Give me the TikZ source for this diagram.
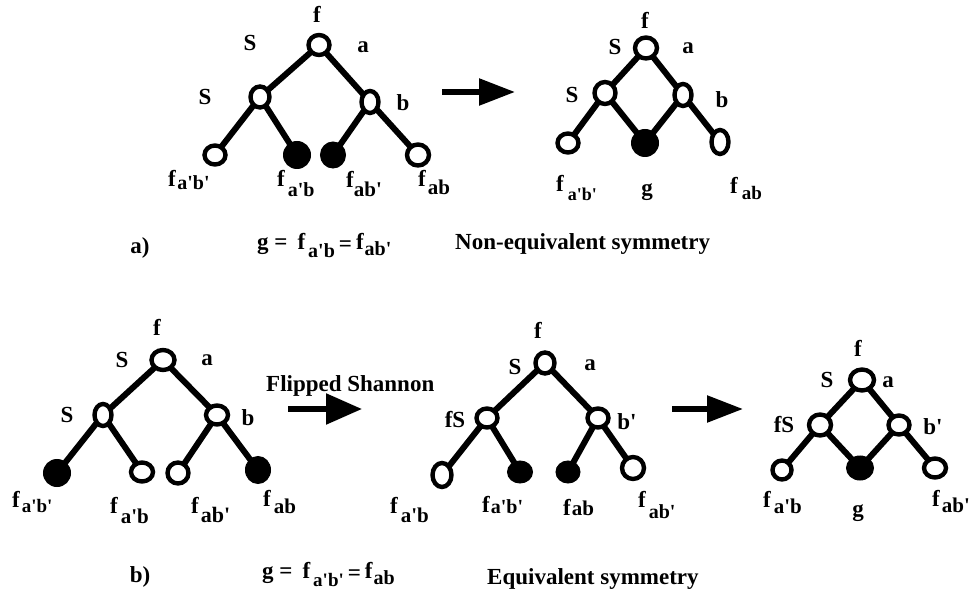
\documentclass[tikz,border=0pt]{standalone}
\usepackage{fontspec}
\newfontfamily\tf{Liberation Serif}
\usetikzlibrary{shapes.geometric,arrows.meta,backgrounds}
\tikzset{
  on/.style 2 args={draw, ellipse, line width=4.4pt, fill=white, inner sep=0pt, outer sep=0pt, minimum width=#1pt-1pt, minimum height=#2pt-1pt},
  fn/.style 2 args={draw, ellipse, line width=1pt, fill=black, inner sep=0pt, outer sep=0pt, minimum width=#1pt+2pt, minimum height=#2pt+2pt},
  edge/.style={line width=6pt},
  lab/.style={font=\tf\bfseries\fontsize{23}{23}\selectfont, inner sep=0pt},
  fl/.style={lab, anchor=base west},
  bigarrow/.style={line width=5.5pt, -{Triangle[length=36pt,width=#1pt]}},
}
\newcommand\fsub[4]{f\kern#1pt\raisebox{-#2pt}{\fontsize{#3}{#3}\selectfont #4}}
\begin{document}
\begin{tikzpicture}[x=1pt,y=-1pt]
\useasboundingbox (0,0) rectangle (974,601);
% ---------- top-left tree
\node[on={22}{21}] (A0) at (319,45) {};
\node[on={20}{22}] (A1) at (260,97) {};
\node[on={18}{23}] (A2) at (370,102) {};
\node[on={22}{20}] (A3) at (215,155) {};
\node[fn={25}{25}] (A4) at (297,155) {};
\node[fn={23}{24}] (A5) at (333,155) {};
\node[on={23}{22}] (A6) at (418,155) {};
\begin{scope}[on background layer]
\draw[edge] (A0.center) -- (A1.center) (A0.center) -- (A2.center)
  (A1.center) -- (A3.center) (A1.center) -- (A4.center)
  (A2.center) -- (A5.center) (A2.center) -- (A6.center);
\end{scope}
\node[lab] (Af) at (317,14) {f};
\node[lab] (AS) at (250,43) {S};
\node[lab] (Aa) at (363,47) {a};
\node[lab] (AS1) at (205,97) {S};
\node[lab] (Ab) at (403,103) {b};
\node[fl] (Al1) at (168,187) {\fsub{1.5}{3}{20}{a'b'}};
\node[fl] (Al2) at (277,187) {\fsub{3}{10}{20}{a'b}};
\node[fl] (Al3) at (346,188) {\fsub{0}{9}{21}{ab'}};
\node[fl] (Al4) at (418,187) {\fsub{2}{8}{21}{ab}};
% arrow top
\coordinate (ar1s) at (442,92);
\coordinate (ar1e) at (515,92);
\draw[bigarrow=26] (ar1s) -- (ar1e);
% ---------- top-right tree
\node[on={23}{22}] (B0) at (646,48) {};
\node[on={22}{23}] (B1) at (605,93) {};
\node[on={18}{23}] (B2) at (683,95) {};
\node[on={22}{20}] (B3) at (568,143) {};
\node[fn={25}{25}] (B4) at (645,143) {};
\node[on={18}{25}] (B5) at (720,142) {};
\begin{scope}[on background layer]
\draw[edge] (B0.center) -- (B1.center) (B0.center) -- (B2.center)
  (B1.center) -- (B3.center) (B1.center) -- (B4.center)
  (B2.center) -- (B4.center) (B2.center) -- (B5.center);
\end{scope}
\node[lab] (Bf) at (645,20) {f};
\node[lab] (BS) at (615,47) {S};
\node[lab] (Ba) at (688,48) {a};
\node[lab] (BS1) at (572,95) {S};
\node[lab] (Bb) at (722,100) {b};
\node[fl] (Bl1) at (556,192) {\fsub{4}{9}{18}{a'b'}};
\node[lab] (Bg) at (647,192) {g};
\node[fl] (Bl3) at (730,194) {\fsub{4}{6}{19}{ab}};
% caption a
\node[lab] (capa) at (140,248) {a)};
\node[fl] (eqa) at (257,250) {g =\kern10pt\fsub{3}{8}{20}{a'b}\kern4pt\raisebox{-2pt}{=}\kern4pt\fsub{1}{6}{20}{ab'}};
\node[fl] (txa) at (455,250) {Non-equivalent symmetry};
% ---------- bottom-left tree
\node[on={24}{21}] (C0) at (163,360) {};
\node[on={18}{23}] (C1) at (103,415) {};
\node[on={23}{20}] (C2) at (217,415) {};
\node[fn={25}{25}] (C3) at (57,473) {};
\node[on={23}{20}] (C4) at (142,472) {};
\node[on={22}{22}] (C5) at (178,473) {};
\node[fn={23}{25}] (C6) at (258,470) {};
\begin{scope}[on background layer]
\draw[edge] (C0.center) -- (C1.center) (C0.center) -- (C2.center)
  (C1.center) -- (C3.center) (C1.center) -- (C4.center)
  (C2.center) -- (C5.center) (C2.center) -- (C6.center);
\end{scope}
\node[lab] (Cf) at (157,327) {f};
\node[lab] (CS) at (122,360) {S};
\node[lab] (Ca) at (207,360) {a};
\node[lab] (CS1) at (67,415) {S};
\node[lab] (Cb) at (248,418) {b};
\node[fl] (Cl1) at (12,507) {\fsub{2}{5}{19}{a'b'}};
\node[fl] (Cl2) at (110,513) {\fsub{3}{10}{21}{a'b}};
\node[fl] (Cl3) at (191,513) {\fsub{2}{9}{22}{ab'}};
\node[fl] (Cl4) at (263,506) {\fsub{3}{7}{21}{ab}};
% flipped shannon arrow
\node[fl] (flip) at (266,391) {Flipped Shannon};
\coordinate (ar2s) at (288,409);
\coordinate (ar2e) at (362,409);
\draw[bigarrow=30] (ar2s) -- (ar2e);
% ---------- bottom-middle tree
\node[on={20}{22}] (D0) at (545,363) {};
\node[on={22}{20}] (D1) at (487,418) {};
\node[on={22}{20}] (D2) at (598,418) {};
\node[on={20}{25}] (D3) at (442,475) {};
\node[fn={23}{20}] (D4) at (520,472) {};
\node[fn={22}{20}] (D5) at (568,472) {};
\node[on={23}{23}] (D6) at (633,468) {};
\begin{scope}[on background layer]
\draw[edge] (D0.center) -- (D1.center) (D0.center) -- (D2.center)
  (D1.center) -- (D3.center) (D1.center) -- (D4.center)
  (D2.center) -- (D5.center) (D2.center) -- (D6.center);
\end{scope}
\node[lab] (Df) at (538,330) {f};
\node[lab] (DS) at (515,367) {S};
\node[lab] (Da) at (590,365) {a};
\node[lab] (DfS) at (455,420) {fS};
\node[lab] (Db) at (627,422) {b'};
\node[fl] (Dl1) at (390,513) {\fsub{3}{9}{21}{a'b}};
\node[fl] (Dl2) at (482,512) {\fsub{1}{1}{20}{a'b'}};
\node[fl] (Dl3) at (563,515) {\fsub{1}{0}{21}{ab}};
\node[fl] (Dl4) at (638,507) {\fsub{3}{11}{20}{ab'}};
% arrow bottom right
\coordinate (ar3s) at (672,409);
\coordinate (ar3e) at (743,409);
\draw[bigarrow=26] (ar3s) -- (ar3e);
% ---------- bottom-right tree
\node[on={25}{22}] (E0) at (862,380) {};
\node[on={23}{22}] (E1) at (820,425) {};
\node[on={22}{20}] (E2) at (899,425) {};
\node[on={20}{20}] (E3) at (782,470) {};
\node[fn={25}{22}] (E4) at (860,468) {};
\node[on={23}{20}] (E5) at (935,468) {};
\begin{scope}[on background layer]
\draw[edge] (E0.center) -- (E1.center) (E0.center) -- (E2.center)
  (E1.center) -- (E3.center) (E1.center) -- (E4.center)
  (E2.center) -- (E4.center) (E2.center) -- (E5.center);
\end{scope}
\node[lab] (Ef) at (858,348) {f};
\node[lab] (ES) at (827,380) {S};
\node[lab] (Ea) at (888,382) {a};
\node[lab] (EfS) at (784,425) {fS};
\node[lab] (Eb) at (933,427) {b'};
\node[fl] (El1) at (763,507) {\fsub{3}{6}{21}{a'b}};
\node[lab] (Eg) at (858,513) {g};
\node[fl] (El3) at (932,506) {\fsub{2}{6}{21}{ab'}};
% caption b
\node[lab] (capb) at (140,577) {b)};
\node[fl] (eqb) at (262,578) {g =\kern10pt\fsub{3}{8}{19}{a'b'}\kern4pt\raisebox{-2pt}{=}\kern4pt\fsub{1}{6}{20}{ab}};
\node[fl] (txb) at (487,584) {Equivalent symmetry};
\end{tikzpicture}
\end{document}
